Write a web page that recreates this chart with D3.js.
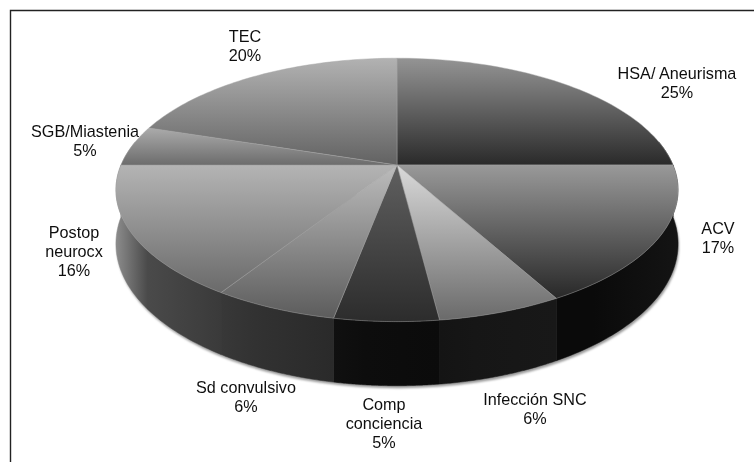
<!DOCTYPE html>
<html>
<head>
<meta charset="utf-8">
<script src="https://cdn.jsdelivr.net/npm/d3@7/dist/d3.min.js"></script>
<style>
html,body{margin:0;padding:0;background:#fff}
svg{display:block}
text{font-family:"Liberation Sans",Arial,sans-serif;font-size:16.2px;fill:#111;text-anchor:middle}
</style>
</head>
<body>
<script>
// Diagnoses and their share of admissions, clockwise from twelve o'clock
const categories = ["HSA/ Aneurisma","ACV","Infección SNC","Comp conciencia","Sd convulsivo","Postop neurocx","SGB/Miastenia","TEC"];
const shares = [25,17,6,5,6,16,5,20];
const labelLines = [["HSA/ Aneurisma"],["ACV"],["Infección SNC"],["Comp","conciencia"],["Sd convulsivo"],["Postop","neurocx"],["SGB/Miastenia"],["TEC"]];
const labelAnchors = [[677,79],[718,234],[535,405],[384,410],[246,393],[74,238],[85,137],[245,42]];
const topShades = [["#949494","#2a2a2a"],["#999999","#282828"],["#dadada","#6a6a6a"],["#606060","#2c2c2c"],["#bcbcbc","#5c5c5c"],["#b4b4b4","#6a6a6a"],["#ababab","#6c6c6c"],["#b2b2b2","#626262"]];
const wallShades = [["#0c0c0c","#0c0c0c","#0c0c0c"],["#141414","#0a0a0a","#0a0a0a"],["#181818","#161616","#141414"],["#0b0b0b","#0d0d0d","#101010"],["#2a2a2a","#323232","#383838"],["#3a3a3a","#4a4a4a","#8c8c8c"],["#999","#999","#999"],["#999","#999","#999"]];

const width = 754, height = 462;
const svg = d3.select("body").append("svg").attr("width", width).attr("height", height);
const defs = svg.append("defs");

// Tilted-disc projection: v runs towards the viewer, nearer points spread out
const cx = 397, cy = 165, A = 276, B = 127, tilt = 0.189, wall = 52;
const project = (angle, drop = 0) => {
  const u = Math.sin(angle), v = -Math.cos(angle), s = 1 / (1 - tilt * v);
  return [cx + A * u * s, cy + B * v * s + drop * s];
};

const arcs = d3.pie().sort(null).value(d => d)(shares);
const rim = (a0, a1, drop = 0) => d3.range(0, 61).map(i => project(a0 + (a1 - a0) * i / 60, drop));
const line = d3.line();

// Angle of the widest point of the disc: the side wall is visible only beyond it
const sideAngle = Math.acos(tilt);
const wallFrom = sideAngle;
const wallTo = 2 * Math.PI - sideAngle;

defs.append("filter").attr("id", "soft").attr("x", "-5%").attr("y", "-5%").attr("width", "110%").attr("height", "110%")
  .append("feGaussianBlur").attr("stdDeviation", 1.3);
defs.append("filter").attr("id", "ink").append("feGaussianBlur").attr("stdDeviation", 0.35);

arcs.forEach((d, i) => {
  const top = defs.append("linearGradient").attr("id", `top${i}`).attr("x1", 0).attr("y1", 0).attr("x2", 0).attr("y2", 1);
  top.append("stop").attr("offset", 0).attr("stop-color", topShades[i][0]);
  top.append("stop").attr("offset", 1).attr("stop-color", topShades[i][1]);
  const side = defs.append("linearGradient").attr("id", `side${i}`).attr("x1", 0).attr("y1", 0).attr("x2", 1).attr("y2", 0);
  side.append("stop").attr("offset", 0).attr("stop-color", wallShades[i][2]);
  side.append("stop").attr("offset", 0.3).attr("stop-color", wallShades[i][1]);
  side.append("stop").attr("offset", 1).attr("stop-color", wallShades[i][0]);
});

// Frame around the figure
svg.append("path").attr("d", `M10.5,${height}V10.5H${width}`).attr("fill", "none").attr("stroke", "#222").attr("stroke-width", 1.4);

// Soft shadow under the base
svg.append("path")
  .attr("d", line(rim(wallFrom, wallTo, wall)) + "Z")
  .attr("transform", "translate(1,2.5)")
  .attr("fill", "#9a9a9a")
  .attr("filter", "url(#soft)");

// Side wall, one band for each slice that reaches the front of the disc
const walls = svg.append("g");
arcs.forEach((d, i) => {
  const a0 = Math.max(d.startAngle, wallFrom), a1 = Math.min(d.endAngle, wallTo);
  if (a1 <= a0) return;
  const pts = rim(a0, a1).concat(rim(a0, a1, wall).reverse());
  walls.append("path").attr("d", line(pts) + "Z").attr("fill", `url(#side${i})`)
    .attr("stroke", `url(#side${i})`).attr("stroke-width", 0.5);
});

// Top face of the disc
const face = svg.append("g");
arcs.forEach((d, i) => {
  const pts = [[cx, cy]].concat(rim(d.startAngle, d.endAngle));
  face.append("path").attr("d", line(pts) + "Z").attr("fill", `url(#top${i})`)
    .attr("stroke", "#a6a6a6").attr("stroke-opacity", 0.55).attr("stroke-width", 0.8).attr("stroke-linejoin", "round");
});

// Category and percentage labels
const labels = svg.append("g").attr("filter", "url(#ink)");
categories.forEach((c, i) => {
  const t = labels.append("text").attr("x", labelAnchors[i][0]).attr("y", labelAnchors[i][1]);
  labelLines[i].concat(`${shares[i]}%`).forEach((s, k) => {
    t.append("tspan").attr("x", labelAnchors[i][0]).attr("dy", k ? 19 : 0).text(s);
  });
});
</script>
</body>
</html>
